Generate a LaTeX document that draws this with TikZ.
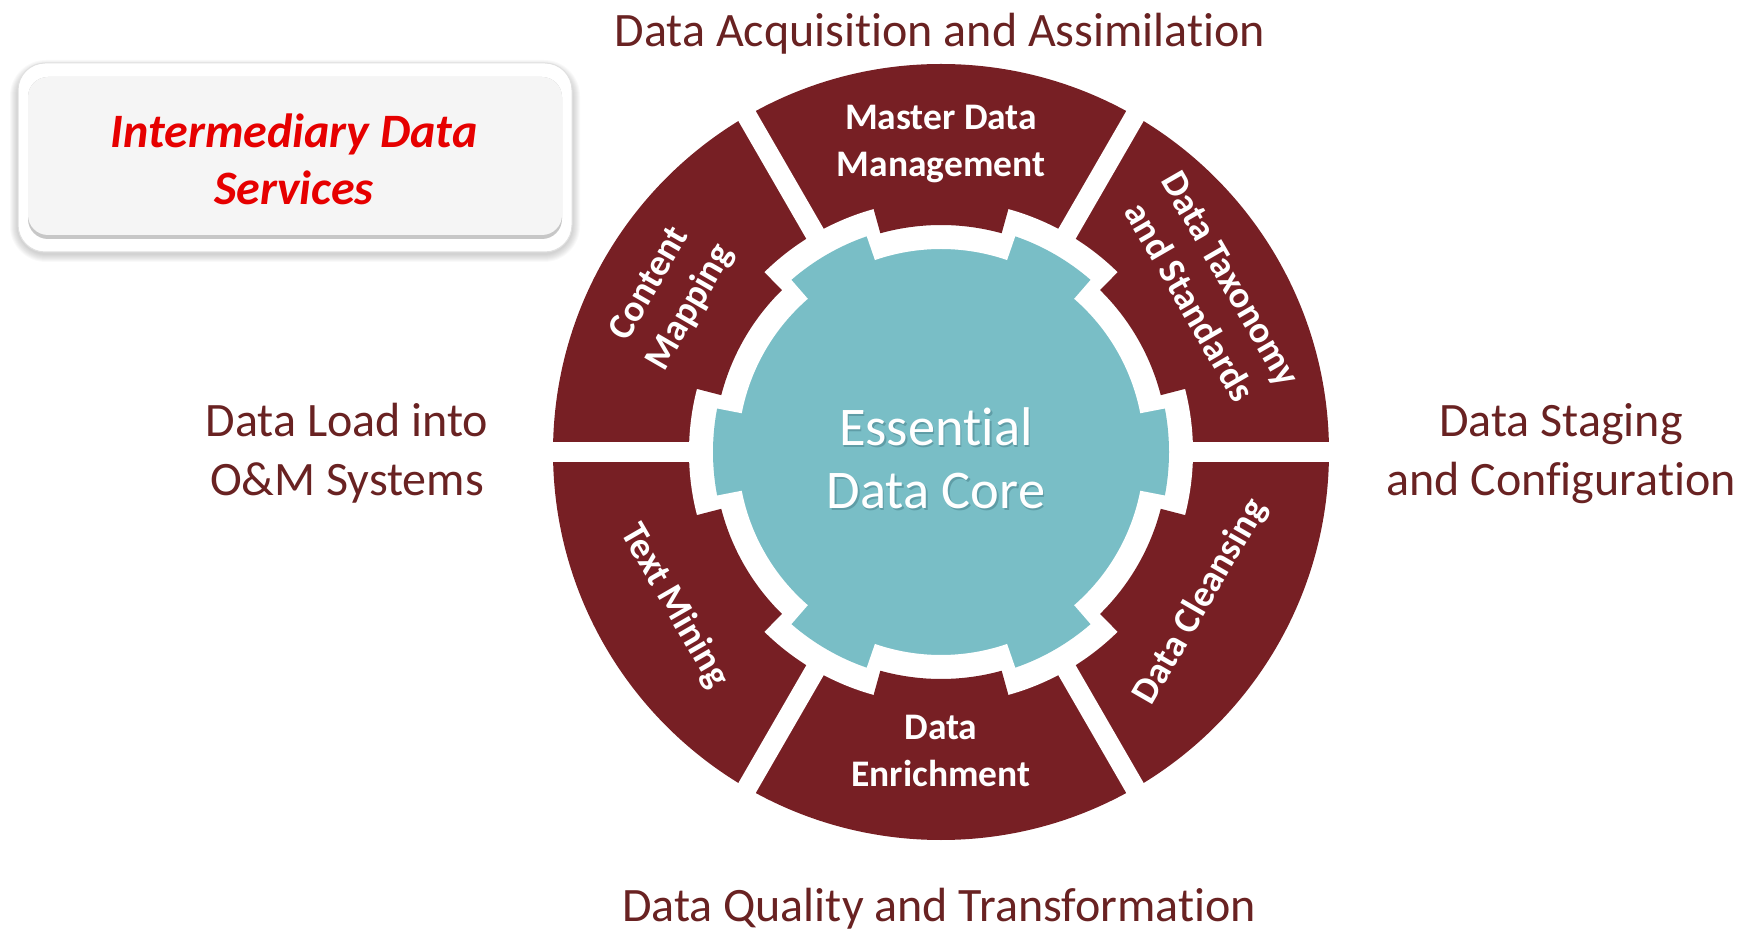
\documentclass[tikz,border=0pt]{standalone}
\usepackage{fontspec}
\setmainfont{Carlito}[Ligatures=NoCommon]
\usetikzlibrary{calc}
\definecolor{ringc}{HTML}{771F24}
\definecolor{corec}{HTML}{79BEC6}
\definecolor{labelc}{HTML}{692222}
\definecolor{boxred}{HTML}{E60000}
\definecolor{panelc}{HTML}{F5F5F5}
\definecolor{coreshadow}{HTML}{4E8791}
\tikzset{
  outerlabel/.style={text=labelc, font=\fontsize{48}{59}\selectfont, align=center, inner sep=0pt},
  segtext/.style={text=white, font=\bfseries\fontsize{37.5}{47}\selectfont, align=center, inner sep=0pt},
  coretext/.style={text=white, font=\fontsize{54.5}{63}\selectfont, align=center, inner sep=0pt},
  boxtext/.style={text=boxred, font=\bfseries\itshape\fontsize{48}{57}\selectfont, align=center, inner sep=0pt},
}
\begin{document}
\begin{tikzpicture}[x=1pt,y=1pt]
\useasboundingbox (0,0) rectangle (1751,930);
\coordinate (C) at (941,478);
% ring
\fill[ringc] (C) circle (388);
\foreach \a in {0,60,120}
  \fill[white, rotate around={\a:(C)}] ($(C)+(-400,-10)$) rectangle ($(C)+(400,10)$);
\fill[white] (C) circle (252);
\fill[corec] (C) circle (228);
\foreach \c in {30,90,...,330} {
  \fill[white] ($(C)+(\c-19:203)$) arc[start angle=\c-19, end angle=\c+19, radius=203]
     -- ($(C)+(\c+19:240)$) arc[start angle=\c+19, end angle=\c-19, radius=240] -- cycle;
  \fill[ringc] ($(C)+(\c-15.5:227)$) arc[start angle=\c-15.5, end angle=\c+15.5, radius=227]
     -- ($(C)+(\c+15.5:253)$) arc[start angle=\c+15.5, end angle=\c-15.5, radius=253] -- cycle;
}
% segment labels
\node[segtext] (mdm) at ($(C)+(90:308)$) {Master Data\\Management};
\node[segtext, rotate=-60] (dts) at ($(C)+(31:314)$) {Data Taxonomy\\and Standards};
\node[segtext, rotate=60] (dcl) at ($(C)+(-30:300)$) {Data Cleansing};
\node[segtext] (den) at ($(C)+(-90:299)$) {Data\\Enrichment};
\node[segtext, rotate=-60] (txm) at ($(C)+(210:308)$) {Text Mining};
\node[segtext, rotate=60] (cmp) at ($(C)+(150:312)$) {Content\\Mapping};
% core
\node[coretext, text=coreshadow, opacity=0.6] (coresh) at (937.5,470) {Essential\\Data Core};
\node[coretext] (core) at (936,471.5) {Essential\\Data Core};
% outer labels
\node[outerlabel] (acq) at (940,896) {Data Acquisition and Assimilation};
\node[outerlabel] (qual) at (939,21.5) {Data Quality and Transformation};
\node[outerlabel] (load) at (347,476.5) {Data Load into\\O\&M Systems};
\node[outerlabel] (stag) at (1561,476.5) {Data Staging\\and Configuration};
% box
\foreach \i in {1,...,8}
  \fill[black, opacity=0.025, rounded corners=28+\i] (18-\i,676-\i) rectangle (572+\i,866+\i-4);
\fill[white, draw=black!12, line width=1pt, rounded corners=27] (18,678) rectangle (572,867);
\fill[black!22, rounded corners=20] (28,691) rectangle (562,853);
\fill[panelc, rounded corners=20] (28,695) rectangle (562,853);
\node[boxtext] (ids) at (294,770.5) {Intermediary Data\\Services};
\end{tikzpicture}
\end{document}
